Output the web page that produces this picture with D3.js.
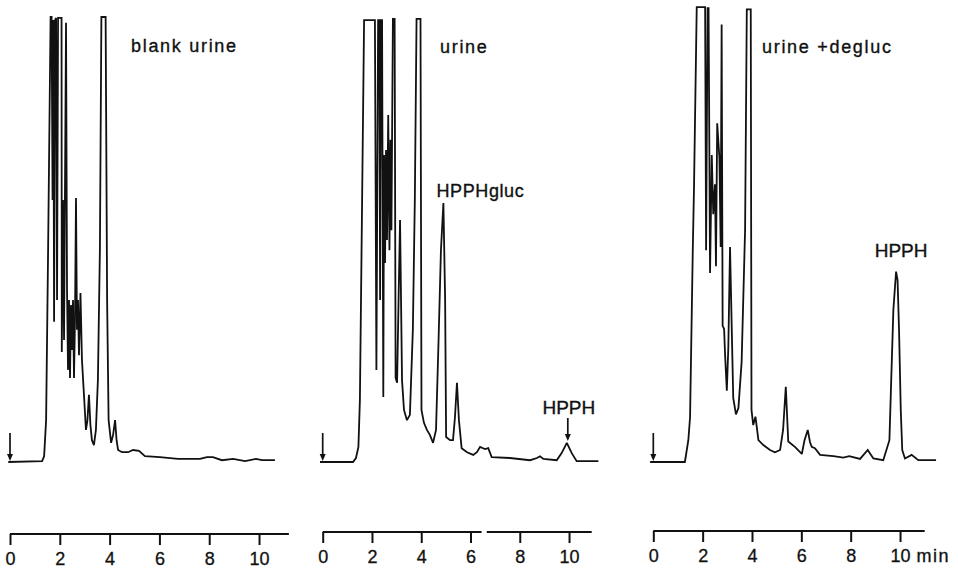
<!DOCTYPE html>
<html>
<head>
<meta charset="utf-8">
<script src="https://cdn.jsdelivr.net/npm/d3@7"></script>
<style>
  body { margin: 0; background: #fff; }
  svg { display: block; }
</style>
</head>
<body>
<div id="chart"></div>
<script>
// minutes on the x axis
const tickValues = [0, 2, 4, 6, 8, 10];
const panelTitles = ["blank urine", "urine", "urine +degluc"];

// [time (min), detector signal (% of full scale)]
const blankUrine = [
  [-0.07, 0], [1.29, 0.2], [1.37, 1.3], [1.45, 9.4], [1.53, 47.6], [1.63, 100], [1.67, 100],
  [1.71, 58.9], [1.74, 99.3], [1.77, 31.5], [1.81, 99.3], [1.85, 99.8], [1.89, 36.4],
  [1.93, 99.8], [2.07, 99.8], [2.08, 24.7], [2.13, 58.9], [2.17, 27.4], [2.25, 98.7],
  [2.29, 38.7], [2.33, 20.7], [2.37, 36.4], [2.41, 18.9], [2.45, 35.3], [2.49, 25.2],
  [2.53, 36.4], [2.57, 18.9], [2.61, 31.9], [2.65, 59.3], [2.69, 29.7], [2.73, 36.4],
  [2.77, 24.0], [2.83, 38.0], [2.89, 22.9], [2.97, 15.1], [3.05, 7.2], [3.11, 9.4],
  [3.17, 15.1], [3.23, 8.3], [3.29, 4.9], [3.37, 3.8], [3.45, 7.2], [3.53, 18.4],
  [3.61, 47.6], [3.67, 100], [3.84, 100], [3.90, 36.4], [3.96, 9.4], [4.06, 4.3],
  [4.14, 6.1], [4.22, 9.4], [4.28, 4.9], [4.34, 2.7], [4.50, 2.2], [4.74, 2.2],
  [4.94, 2.7], [5.18, 2.5], [5.42, 1.3], [6.02, 1.1], [6.75, 0.7], [7.63, 0.7],
  [7.91, 1.1], [8.15, 1.1], [8.51, 0.4], [8.96, 0.7], [9.44, 0.2], [9.88, 0.7],
  [10.12, 0.4], [10.64, 0.4]
];

const urine = [
  [-0.11, 0], [1.23, 0], [1.35, 0.9], [1.45, 3.4], [1.51, 13.9], [1.60, 58.9], [1.68, 99.3],
  [2.12, 99.3], [2.18, 20.7], [2.25, 99.3], [2.30, 99.3], [2.33, 36.4], [2.37, 99.3],
  [2.41, 99.3], [2.46, 14.6], [2.49, 69.0], [2.53, 44.7], [2.57, 70.1], [2.61, 49.9],
  [2.66, 78.0], [2.71, 47.6], [2.75, 72.4], [2.79, 52.1], [2.85, 99.6], [2.92, 99.6],
  [2.96, 18.9], [3.02, 17.8], [3.08, 36.4], [3.14, 54.4], [3.18, 36.4], [3.22, 18.4],
  [3.30, 11.7], [3.42, 9.4], [3.54, 10.6], [3.66, 29.7], [3.74, 58.9], [3.81, 99.6],
  [3.97, 99.6], [4.01, 11.7], [4.11, 8.8], [4.23, 7.2], [4.35, 6.1], [4.48, 4.3],
  [4.60, 7.2], [4.70, 26.7], [4.80, 47.6], [4.90, 58.2], [4.97, 36.4], [5.01, 5.6],
  [5.17, 4.9], [5.29, 4.9], [5.37, 10.1], [5.45, 17.8], [5.53, 9.4], [5.64, 3.1],
  [5.86, 2.2], [6.11, 1.6], [6.26, 2.2], [6.39, 3.4], [6.51, 3.1], [6.59, 2.9],
  [6.72, 3.1], [6.86, 1.1], [7.60, 0.9], [8.42, 0.4], [8.70, 0.9], [8.82, 1.3],
  [8.96, 0.7], [9.50, 0.4], [9.70, 2.0], [9.91, 4.3], [10.11, 2.0], [10.31, 0.2],
  [11.19, 0.2]
];

const urineDegluc = [
  [-0.13, 0], [1.28, 0], [1.42, 4.9], [1.49, 10.1], [1.60, 47.6], [1.65, 61.8], [1.76, 102.2],
  [2.10, 102.2], [2.14, 47.6], [2.20, 102.0], [2.24, 102.0], [2.30, 42.5], [2.37, 69.0],
  [2.43, 55.7], [2.50, 62.4], [2.54, 44.0], [2.59, 76.1], [2.68, 68.3], [2.73, 48.3],
  [2.77, 98.3], [2.81, 30.6], [2.87, 29.9], [2.91, 24.0], [2.98, 16.0], [3.04, 25.6],
  [3.11, 48.3], [3.18, 29.9], [3.24, 14.4], [3.35, 10.7], [3.45, 12.1], [3.58, 22.5],
  [3.72, 52.1], [3.79, 101.7], [3.95, 101.7], [3.98, 11.7], [4.05, 8.3], [4.14, 10.2],
  [4.20, 7.6], [4.26, 4.9], [4.46, 3.8], [4.73, 2.7], [4.93, 2.2], [5.14, 2.7],
  [5.26, 7.2], [5.37, 16.9], [5.47, 4.6], [5.74, 3.4], [6.02, 1.8], [6.13, 4.9],
  [6.26, 7.2], [6.35, 4.5], [6.42, 3.4], [6.55, 3.1], [6.76, 1.6], [7.30, 1.3],
  [7.70, 1.0], [7.94, 1.3], [8.38, 0.7], [8.69, 2.7], [8.92, 0.8], [9.32, 0.4],
  [9.57, 4.9], [9.64, 17.8], [9.73, 34.2], [9.84, 42.8], [9.90, 40.9], [9.96, 29.7],
  [10.03, 11.7], [10.09, 2.7], [10.20, 0.8], [10.47, 1.6], [10.74, 0.4], [11.46, 0.4]
];

const FONT = "'Liberation Sans', Arial, Helvetica, sans-serif";
const INK = "#111";
const W = 958, H = 570;

const svg = d3.select("#chart").append("svg")
  .attr("width", W).attr("height", H)
  .attr("viewBox", `0 0 ${W} ${H}`);

// common vertical scale, 100 % = pen at the top of the paper
const y = d3.scaleLinear().domain([0, 100]).range([462, 17]);

const panels = [
  { data: blankUrine, title: panelTitles[0], tMax: 11.2, range: [10, 288.9], axisY: 534,
    titleX: 131, titleY: 52, axisParts: [[0, 11.2]] },
  { data: urine, title: panelTitles[1], tMax: 10.92, range: [322.7, 591.7], axisY: 532,
    titleX: 440, titleY: 53, axisParts: [[0, 6.45], [6.66, 10.92]] },
  { data: urineDegluc, title: panelTitles[2], tMax: 11.0, range: [653.3, 924.7], axisY: 531,
    titleX: 762, titleY: 53, axisParts: [[0, 11.0]] }
];

// printed text looks a bit heavy on the scan
function label(g, x, yy, txt, size, spacing, anchor) {
  return g.append("text")
    .attr("x", x).attr("y", yy)
    .attr("text-anchor", anchor || "start")
    .attr("font-family", FONT)
    .attr("font-size", size + "px")
    .attr("letter-spacing", (spacing || 0) + "px")
    .attr("fill", INK)
    .attr("stroke", INK).attr("stroke-width", 0.35)
    .text(txt);
}

function arrowDown(g, x, y0, y1) {
  g.append("line")
    .attr("x1", x).attr("x2", x)
    .attr("y1", y0).attr("y2", y1 - 4)
    .attr("stroke", INK).attr("stroke-width", 1.7);
  g.append("path")
    .attr("d", `M${x - 3},${y1 - 7} L${x + 3},${y1 - 7} L${x},${y1} Z`)
    .attr("fill", INK);
}

panels.forEach((p, i) => {
  const x = d3.scaleLinear().domain([0, p.tMax]).range(p.range);
  const g = svg.append("g");

  // trace
  const line = d3.line().x(d => x(d[0])).y(d => y(d[1]));
  g.append("path")
    .datum(p.data)
    .attr("d", line)
    .attr("fill", "none")
    .attr("stroke", INK)
    .attr("stroke-width", 1.8)
    .attr("stroke-linejoin", "miter")
    .attr("stroke-miterlimit", 2);

  // injection mark
  arrowDown(g, x(0), 433, 461);

  label(g, p.titleX, p.titleY, p.title, 18, 1.7);

  // time axis
  const ax = g.append("g")
    .attr("transform", `translate(0,${p.axisY})`)
    .call(d3.axisBottom(x).tickValues(tickValues).tickSize(11).tickSizeOuter(0).tickFormat(d3.format("d")));
  ax.select(".domain").remove();
  ax.selectAll(".tick line").attr("stroke", INK).attr("stroke-width", 2);
  ax.selectAll(".tick text")
    .attr("y", 18)
    .attr("fill", INK)
    .attr("stroke", INK).attr("stroke-width", 0.3)
    .attr("font-size", "18px")
    .attr("font-family", FONT);
  ax.selectAll(".part")
    .data(p.axisParts)
    .enter().append("line")
    .attr("x1", d => x(d[0])).attr("x2", d => x(d[1]))
    .attr("y1", 0).attr("y2", 0)
    .attr("stroke", INK).attr("stroke-width", 2);

  if (i === 1) {
    label(g, 436.5, 197, "HPPHgluc", 18, 0.6);
    label(g, x(9.95) + 1, 414, "HPPH", 19, 0, "middle");
    arrowDown(g, x(9.95), 418, 441);
  }
  if (i === 2) {
    label(g, x(9.84) + 5, 257, "HPPH", 19, 0, "middle");
    label(g, x(10) + 16.5, p.axisY + 18 + 12.8, "min", 18, 1.5);
  }
});
</script>
</body>
</html>
